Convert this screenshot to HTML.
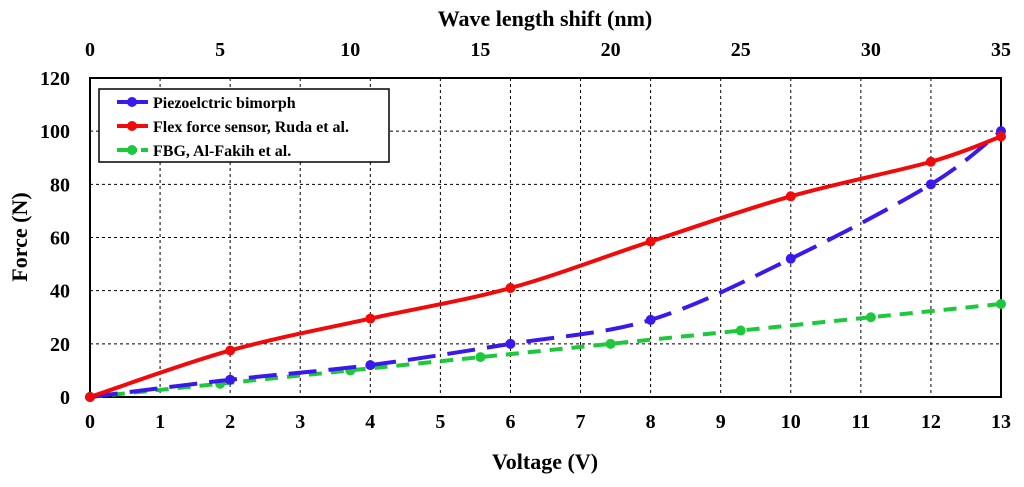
<!DOCTYPE html>
<html><head><meta charset="utf-8"><style>
body{margin:0;background:#fff}
text{font-family:"Liberation Serif",serif;font-weight:bold;fill:#000}
</style></head><body>
<svg id="c" width="1024" height="482" viewBox="0 0 1024 482" xmlns="http://www.w3.org/2000/svg"></svg>
<script>
const voltage=[0,2,4,6,8,10,12,13];
const piezo=[0,6.5,12,20,29,52,80,100];
const flex=[0,17.5,29.5,41,58.5,75.5,88.5,98];
const fbgShift=[0,5,10,15,20,25,30,35];
const fbgForce=[0,5,10,15,20,25,30,35];
const xTicks=[0,1,2,3,4,5,6,7,8,9,10,11,12,13];
const topTicks=[0,5,10,15,20,25,30,35];
const yTicks=[0,20,40,60,80,100,120];
const L=90,R=1001,T=78,B=397;
const sx=v=>L+v/13*(R-L), st=v=>L+v/35*(R-L), sy=v=>B-v/120*(B-T);
const svg=document.getElementById('c');const NS='http://www.w3.org/2000/svg';
function el(t,a,p){const e=document.createElementNS(NS,t);for(const k in a)e.setAttribute(k,a[k]);(p||svg).appendChild(e);return e;}
const grid=el('g',{});
xTicks.slice(1,-1).forEach(v=>el('line',{x1:sx(v),x2:sx(v),y1:T,y2:B,stroke:'#000','stroke-width':1,'stroke-dasharray':'3,3'},grid));
yTicks.slice(1,-1).forEach(v=>el('line',{x1:L,x2:R,y1:sy(v),y2:sy(v),stroke:'#000','stroke-width':1,'stroke-dasharray':'3,3'},grid));
const frame=el('rect',{x:L,y:T,width:R-L,height:B-T,fill:'none',stroke:'#000','stroke-width':2});

xTicks.forEach(v=>{const t=el('text',{x:sx(v),y:428,'text-anchor':'middle','font-size':20});t.textContent=v;
});
topTicks.forEach(v=>{const t=el('text',{x:st(v),y:56,'text-anchor':'middle','font-size':20});t.textContent=v;
});
yTicks.forEach(v=>{const t=el('text',{x:70,y:sy(v)+7,'text-anchor':'end','font-size':20});t.textContent=v;
});
let t=el('text',{x:545,y:469,'text-anchor':'middle','font-size':22});t.textContent='Voltage (V)';

t=el('text',{x:545,y:26,'text-anchor':'middle','font-size':22});t.textContent='Wave length shift (nm)';

t=el('text',{x:0,y:0,'text-anchor':'middle','font-size':22,transform:'translate(27,237) rotate(-90)'});t.textContent='Force (N)';

function smooth(pts){let d='M'+pts[0][0]+','+pts[0][1];for(let i=0;i<pts.length-1;i++){const p0=pts[Math.max(i-1,0)],p1=pts[i],p2=pts[i+1],p3=pts[Math.min(i+2,pts.length-1)];
d+=` C${p1[0]+(p2[0]-p0[0])/6},${p1[1]+(p2[1]-p0[1])/6} ${p2[0]-(p3[0]-p1[0])/6},${p2[1]-(p3[1]-p1[1])/6} ${p2[0]},${p2[1]}`;}return d;}
function series(name,pts,color,dash){const g=el('g',{});
el('path',{d:smooth(pts),fill:'none',stroke:color,'stroke-width':4,'stroke-dasharray':dash},g);
pts.forEach(p=>{const c=el('circle',{cx:p[0],cy:p[1],r:5,fill:color},g);});}
series('fbg-series',fbgShift.map((s,i)=>[st(s),sy(fbgForce[i])]),'#1ec83c','13,9');
series('piezo-series',voltage.map((v,i)=>[sx(v),sy(piezo[i])]),'#3a1aeb','28,12');
series('flex-series',voltage.map((v,i)=>[sx(v),sy(flex[i])]),'#f00a0a','none');
const lg=el('g',{});
el('rect',{x:99,y:89,width:290,height:73,fill:'#fff',stroke:'#000','stroke-width':1.5},lg);
[['Piezoelctric bimorph','#3a1aeb','none',102],['Flex force sensor, Ruda et al.','#f00a0a','none',126],['FBG, Al-Fakih et al.','#1ec83c','20,4',150]].forEach(e=>{
const g=el('g',{},lg);
el('line',{x1:117,x2:148,y1:e[3],y2:e[3],stroke:e[1],'stroke-width':4,'stroke-dasharray':e[2]},g);
el('circle',{cx:132,cy:e[3],r:5,fill:e[1]},g);
const tx=el('text',{x:153,y:e[3]+6,'font-size':16},g);tx.textContent=e[0];});
</script>
</body></html>
